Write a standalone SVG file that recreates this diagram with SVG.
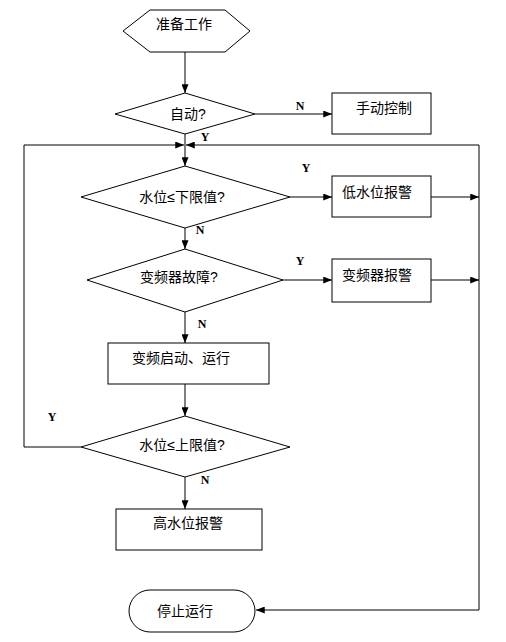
<svg xmlns="http://www.w3.org/2000/svg" width="506" height="642" viewBox="0 0 506 642">
<style>
.s{fill:#fff;stroke:#000;stroke-width:1}
.t{font-family:"Liberation Sans","Noto Sans CJK SC",sans-serif;font-size:14px;fill:#000;text-anchor:middle}
.l{font-family:"Liberation Serif","DejaVu Serif",serif;font-size:12px;font-weight:bold;fill:#000;text-anchor:middle}
.c{fill:none;stroke:#000;stroke-width:1}
</style>
<defs>
<marker id="a" viewBox="0 0 10 8" refX="10" refY="4" markerWidth="9" markerHeight="7" markerUnits="userSpaceOnUse" orient="auto">
<path d="M0,0 L10,4 L0,8 Z" fill="#000"/>
</marker>
</defs>
<rect width="506" height="642" fill="#fff"/>
<g id="connectors">
<path class="c" d="M185,52 V93" marker-end="url(#a)"/>
<path class="c" d="M255,114 H332" marker-end="url(#a)"/>
<path class="c" d="M185,134 V166" marker-end="url(#a)"/>
<path class="c" d="M81,447 H24 V145 H184" marker-end="url(#a)"/>
<path class="c" d="M479,610 V145 H186" marker-end="url(#a)"/>
<path class="c" d="M290,197 H332" marker-end="url(#a)"/>
<path class="c" d="M431,197 H479" marker-end="url(#a)"/>
<path class="c" d="M185,228 V249" marker-end="url(#a)"/>
<path class="c" d="M283,280 H332" marker-end="url(#a)"/>
<path class="c" d="M431,280 H479" marker-end="url(#a)"/>
<path class="c" d="M185,312 V343" marker-end="url(#a)"/>
<path class="c" d="M185,384 V416" marker-end="url(#a)"/>
<path class="c" d="M185,477 V509" marker-end="url(#a)"/>
<path class="c" d="M479,610 H256" marker-end="url(#a)"/>
<text class="l" x="300" y="110">N</text>
<text class="l" x="205" y="141">Y</text>
<text class="l" x="306" y="172">Y</text>
<text class="l" x="200" y="234">N</text>
<text class="l" x="300" y="265">Y</text>
<text class="l" x="202" y="328">N</text>
<text class="l" x="52" y="421">Y</text>
<text class="l" x="205" y="484">N</text>
</g>
<g id="start">
<polygon class="s" points="123,31 150,10 225,10 250,31 225,52 150,52"/>
<text class="t" x="184" y="29">准备工作</text>
</g>
<g id="auto">
<polygon class="s" points="115,114 185,93 255,114 185,134"/>
<text class="t" x="188" y="119">自动?</text>
</g>
<g id="manual">
<rect class="s" x="332" y="93" width="99" height="41"/>
<text class="t" x="384" y="113">手动控制</text>
</g>
<g id="low">
<polygon class="s" points="81,197 185,166 290,197 185,228"/>
<text class="t" x="182" y="202">水位≤下限值?</text>
</g>
<g id="lowalarm">
<rect class="s" x="332" y="176" width="99" height="41"/>
<text class="t" x="377" y="197">低水位报警</text>
</g>
<g id="fault">
<polygon class="s" points="87,280 185,249 283,280 185,312"/>
<text class="t" x="179" y="282">变频器故障?</text>
</g>
<g id="faultalarm">
<rect class="s" x="332" y="259" width="99" height="43"/>
<text class="t" x="377" y="280">变频器报警</text>
</g>
<g id="run">
<rect class="s" x="108" y="343" width="161" height="41"/>
<text class="t" x="181" y="363">变频启动、运行</text>
</g>
<g id="high">
<polygon class="s" points="81,447 185,416 290,447 185,477"/>
<text class="t" x="182" y="450">水位≤上限值?</text>
</g>
<g id="highalarm">
<rect class="s" x="116" y="509" width="146" height="41"/>
<text class="t" x="188" y="528">高水位报警</text>
</g>
<g id="stop">
<rect class="s" x="129" y="590" width="126" height="42" rx="21" ry="21"/>
<text class="t" x="185" y="616">停止运行</text>
</g>
</svg>
